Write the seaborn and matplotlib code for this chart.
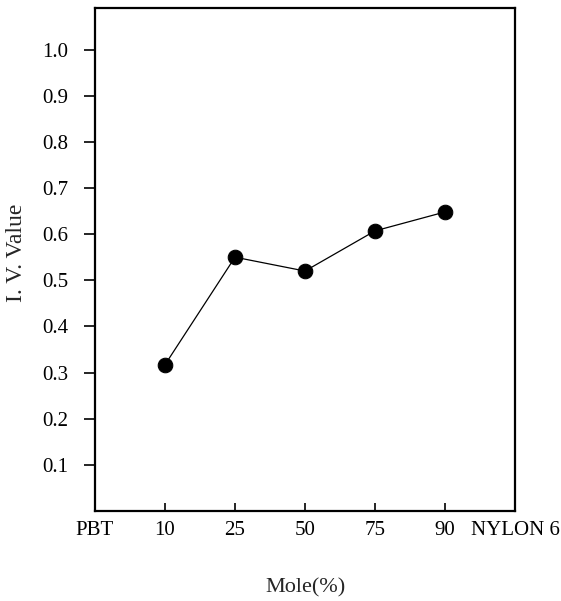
import matplotlib
matplotlib.use("Agg")
import matplotlib.pyplot as plt
import seaborn as sns
import pandas as pd

categories = ["PBT", "10", "25", "50", "75", "90", "NYLON 6"]
sample_labels = ["10", "25", "50", "75", "90"]
iv_values = [0.317, 0.550, 0.520, 0.607, 0.648]
y_ticks = [0.1, 0.2, 0.3, 0.4, 0.5, 0.6, 0.7, 0.8, 0.9, 1.0]

sns.set_style("white")
plt.rcParams["font.family"] = ["Liberation Serif", "DejaVu Serif"]

df = pd.DataFrame({
    "pos": [categories.index(s) for s in sample_labels],
    "iv": iv_values,
})

fig = plt.figure(figsize=(5.61, 6.01), dpi=100)
ax = fig.add_axes([95 / 561, 1 - 511 / 601, 420 / 561, 503 / 601])

sns.lineplot(data=df, x="pos", y="iv", ax=ax, color="black", linewidth=0.9,
             marker="o", markersize=10.5, markeredgecolor="black",
             markerfacecolor="black")

ax.set_xlim(0, len(categories) - 1)
ax.set_ylim(0, 1.09)
ax.set_xticks(range(len(categories)))
ax.set_xticklabels(categories)
ax.set_yticks(y_ticks)
ax.set_yticklabels([f"{v:.1f}" for v in y_ticks])

for s in ax.spines.values():
    s.set_visible(True)
    s.set_color("black")
    s.set_linewidth(1.6)

ax.tick_params(axis="x", direction="in", length=6, width=1.2, pad=7,
               labelsize=15, colors="black")
ax.tick_params(axis="y", direction="out", length=8, width=1.2, pad=11,
               labelsize=15, colors="black", left=True)
ax.tick_params(axis="x", bottom=True)

ax.set_xlabel("Mole(%)", fontsize=16, labelpad=28)
ax.set_ylabel("I. V. Value", fontsize=17)
ax.yaxis.set_label_coords(-0.162, 0.513)
ax.grid(False)

fig.savefig("out.png", dpi=100)
